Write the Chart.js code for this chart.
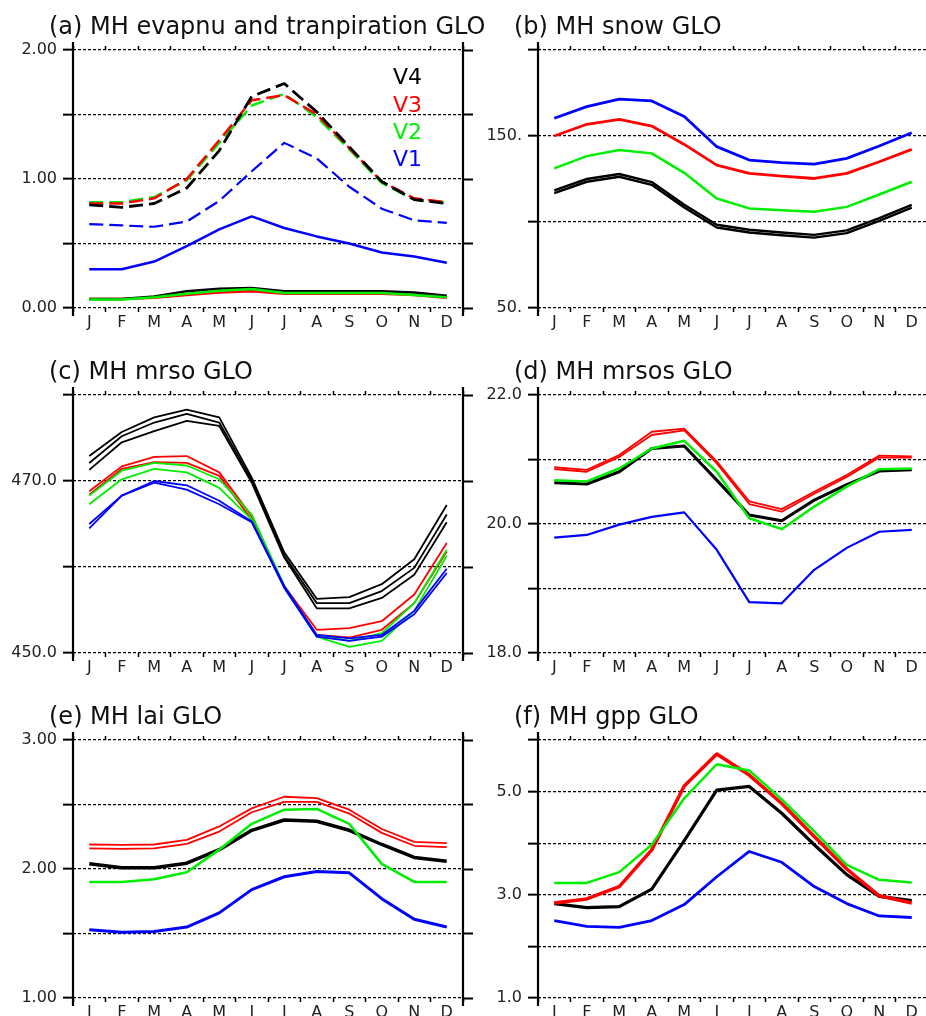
<!DOCTYPE html>
<html><head><meta charset="utf-8">
<script src="https://cdn.jsdelivr.net/npm/chart.js@4.4.1/dist/chart.umd.min.js"></script>
<style>
html,body{margin:0;padding:0;width:926px;height:1016px;overflow:hidden;background:#fff;position:relative;}
canvas{position:absolute;}
.title{position:absolute;font-family:'DejaVu Sans';font-size:24px;line-height:24px;color:#111;white-space:nowrap;}
.leg{position:absolute;font-family:'DejaVu Sans';font-size:22px;line-height:22px;text-align:right;width:60px;left:362px;}
</style></head><body>
<canvas id="ca" width="480" height="345" style="left:0px;top:0px"></canvas>
<canvas id="cb" width="480" height="345" style="left:465px;top:0px"></canvas>
<canvas id="cc" width="480" height="345" style="left:0px;top:345px"></canvas>
<canvas id="cd" width="480" height="345" style="left:465px;top:345px"></canvas>
<canvas id="ce" width="480" height="345" style="left:0px;top:690px"></canvas>
<canvas id="cf" width="480" height="345" style="left:465px;top:690px"></canvas>
<div class="title" style="left:49px;top:13.5px">(a) MH evapnu and tranpiration GLO</div>
<div class="title" style="left:514px;top:13.5px">(b) MH snow GLO</div>
<div class="title" style="left:49px;top:358.5px">(c) MH mrso GLO</div>
<div class="title" style="left:514px;top:358.5px">(d) MH mrsos GLO</div>
<div class="title" style="left:49px;top:703.5px">(e) MH lai GLO</div>
<div class="title" style="left:514px;top:703.5px">(f) MH gpp GLO</div>
<div class="leg" style="top:66px;color:#000">V4</div>
<div class="leg" style="top:94px;color:#ff0000">V3</div>
<div class="leg" style="top:121px;color:#00ee00">V2</div>
<div class="leg" style="top:147.5px;color:#0000ff">V1</div>
<script>
// ---------- data ----------
const months = ['J','F','M','A','M','J','J','A','S','O','N','D'];
const versions = ['V4','V3','V2','V1'];

// (a) evaporation (dashed) and transpiration (solid)
const evapV4 = [0.80,0.78,0.81,0.93,1.22,1.64,1.74,1.52,1.25,0.98,0.84,0.81];
const evapV3 = [0.81,0.81,0.85,1.00,1.30,1.61,1.65,1.50,1.24,0.98,0.85,0.82];
const evapV2 = [0.82,0.82,0.86,0.99,1.28,1.57,1.66,1.48,1.23,0.97,0.84,0.82];
const evapV1 = [0.65,0.64,0.63,0.67,0.83,1.06,1.28,1.16,0.94,0.77,0.68,0.66];
const tranV4 = [0.07,0.07,0.09,0.13,0.15,0.155,0.13,0.13,0.13,0.13,0.12,0.095];
const tranV3 = [0.07,0.07,0.08,0.10,0.12,0.13,0.11,0.11,0.11,0.11,0.10,0.08];
const tranV2 = [0.065,0.065,0.083,0.11,0.134,0.147,0.116,0.116,0.116,0.116,0.10,0.083];
const tranV1 = [0.30,0.30,0.36,0.48,0.61,0.71,0.62,0.555,0.50,0.43,0.40,0.35];
const aTickVals = [0, 1, 2];
const aTickText = ['0.00','1.00','2.00'];

// (b) snow
const snowV1 = [160.3,167.1,171.4,170.4,161.3,143.8,136.0,134.5,133.7,137.0,144.2,151.9];
const snowV3 = [150.0,156.8,159.7,155.8,145.1,133.1,128.3,126.7,125.3,128.3,135.0,142.2];
const snowV2 = [131.2,138.3,141.8,139.9,128.6,113.7,107.9,106.9,105.9,108.8,116.0,123.4];
const snowV4a = [118.4,125.0,127.9,123.2,110.0,98.4,95.5,93.9,92.5,95.1,102.3,110.0];
const snowV4b = [116.8,123.4,126.3,121.6,108.4,96.8,93.9,92.3,90.9,93.5,100.7,108.4];
const bTickVals = [50, 150];
const bTickText = ['50.','150.'];

// (c) mrso (ensemble members)
const mrsoV4a = [472.9,475.7,477.4,478.3,477.4,470.4,461.7,456.3,456.5,458.0,460.9,467.2];
const mrsoV4b = [472.1,475.2,476.8,477.8,476.8,470.1,461.3,455.8,455.8,457.2,459.9,466.1];
const mrsoV4c = [471.3,474.5,475.8,477.0,476.4,469.8,461.1,455.2,455.2,456.4,459.1,465.2];
const mrsoV3a = [468.8,471.7,472.8,472.9,471.0,465.9,457.8,452.7,452.9,453.7,456.8,462.8];
const mrsoV3b = [468.4,471.4,472.2,472.1,470.6,465.5,457.6,452.1,451.8,452.7,455.8,461.8];
const mrsoV2a = [468.3,471.2,472.1,471.8,470.2,466.1,457.8,452.1,451.4,452.3,455.8,462.0];
const mrsoV2b = [467.3,470.2,471.4,471.0,469.2,465.5,457.6,451.9,450.7,451.4,454.9,461.3];
const mrsoV1a = [465.0,468.3,470.0,469.5,467.7,465.3,457.8,452.1,451.7,452.1,454.9,459.8];
const mrsoV1b = [464.5,468.3,469.8,469.0,467.3,465.2,457.6,451.9,451.4,451.9,454.5,459.3];
const cTickVals = [450, 470];
const cTickText = ['450.0','470.0'];

// (d) mrsos
const mrsosV3a = [20.88,20.84,21.07,21.43,21.48,20.97,20.35,20.23,20.50,20.76,21.06,21.05];
const mrsosV3b = [20.85,20.81,21.04,21.38,21.45,20.94,20.31,20.19,20.47,20.73,21.03,21.03];
const mrsosV2 = [20.68,20.66,20.86,21.17,21.29,20.81,20.09,19.92,20.27,20.58,20.85,20.86];
const mrsosV4 = [20.64,20.62,20.81,21.17,21.21,20.68,20.14,20.05,20.37,20.61,20.82,20.84];
const mrsosV1 = [19.79,19.83,19.99,20.11,20.18,19.60,18.79,18.77,19.29,19.63,19.88,19.91];
const dTickVals = [18, 20, 22];
const dTickText = ['18.0','20.0','22.0'];

// (e) lai
const laiV3a = [2.19,2.187,2.19,2.226,2.33,2.47,2.56,2.55,2.46,2.31,2.21,2.20];
const laiV3b = [2.16,2.156,2.16,2.195,2.29,2.44,2.52,2.52,2.43,2.28,2.18,2.17];
const laiV4 = [2.04,2.01,2.01,2.045,2.15,2.30,2.38,2.37,2.30,2.19,2.09,2.06];
const laiV2 = [1.90,1.90,1.92,1.975,2.15,2.35,2.46,2.466,2.35,2.04,1.90,1.90];
const laiV1 = [1.53,1.51,1.516,1.55,1.66,1.84,1.94,1.98,1.97,1.77,1.61,1.55];
const eTickVals = [1, 2, 3];
const eTickText = ['1.00','2.00','3.00'];

// (f) gpp
const gppV3 = [2.84,2.92,3.16,3.87,5.11,5.73,5.32,4.77,4.13,3.50,2.98,2.84];
const gppV2 = [3.23,3.23,3.44,3.97,4.87,5.53,5.41,4.85,4.23,3.58,3.29,3.24];
const gppV4 = [2.83,2.75,2.77,3.11,4.05,5.03,5.10,4.58,3.97,3.39,2.97,2.89];
const gppV1 = [2.50,2.39,2.37,2.50,2.81,3.35,3.84,3.63,3.16,2.83,2.59,2.56];
const fTickVals = [1, 3, 5];
const fTickText = ['1.0','3.0','5.0'];

// ---------- styling / building ----------
const COL = {V4:'#000000', V3:'#ff0000', V2:'#00ee00', V1:'#0000ff'};
const FONT = 'DejaVu Sans';

const framePlugin = {
  id:'frame',
  afterDraw(chart){
    const {ctx, chartArea:{left,right,top,bottom}} = chart;
    ctx.save();
    ctx.strokeStyle = '#000';
    ctx.lineWidth = 2.2;
    ctx.beginPath();
    ctx.moveTo(left, top-8); ctx.lineTo(left, bottom+8);
    ctx.moveTo(right, top-8); ctx.lineTo(right, bottom+8);
    ctx.stroke();
    ctx.restore();
  }
};

function ds(label, data, color, width, dash){
  return {label, data, borderColor:color, borderWidth:width, borderDash:dash||[],
          pointRadius:0, fill:false, tension:0, borderJoinStyle:'round', borderCapStyle:'butt'};
}

function makeChart(id, datasets, min, max, step, tickVals, tickText){
  const yTicks = {
    stepSize: step,
    color:'#222',
    font:{family:FONT, size:16},
    padding:6,
    callback:(v)=>{ const i = tickVals.findIndex(t=>Math.abs(t-v)<1e-9); return i>=0 ? tickText[i] : ''; }
  };
  new Chart(document.getElementById(id), {
    type:'line',
    data:{labels:months, datasets},
    plugins:[framePlugin],
    options:{
      responsive:false, animation:false, devicePixelRatio:1,
      layout:{padding:0},
      plugins:{legend:{display:false}, tooltip:{enabled:false}, title:{display:false}},
      scales:{
        x:{type:'category', position:'bottom', offset:true,
           grid:{offset:true, drawOnChartArea:false, drawTicks:true, tickLength:4, tickWidth:1.5, tickColor:'#000', color:'#000'},
           border:{display:false},
           ticks:{color:'#222', font:{family:FONT, size:16}, padding:1, autoSkip:false, maxRotation:0},
           afterFit:(s)=>{ s.height = 37; }},
        x2:{type:'category', position:'top', offset:true,
           grid:{offset:true, drawOnChartArea:false, drawTicks:true, tickLength:4, tickWidth:1.5, tickColor:'#000', color:'#000'},
           border:{display:false},
           ticks:{display:false},
           afterFit:(s)=>{ s.height = 50; }},
        y:{type:'linear', position:'left', min, max,
           ticks:yTicks,
           grid:{color:'#000', lineWidth:1.3, drawOnChartArea:true, drawTicks:true, tickLength:10, tickWidth:2, tickColor:'#000'},
           border:{display:false, dash:[3,2]},
           afterFit:(s)=>{ s.width = 73; }},
        y2:{type:'linear', position:'right', min, max,
           ticks:{stepSize:step, display:false},
           grid:{drawOnChartArea:false, drawTicks:true, tickLength:10, tickWidth:2, tickColor:'#000', color:'#000'},
           border:{display:false},
           afterFit:(s)=>{ s.width = 17; }}
      }
    }
  });
}

// (a)
makeChart('ca', [
  ds('V2 tran', tranV2, COL.V2, 2.5),
  ds('V4 tran', tranV4, COL.V4, 2.5),
  ds('V3 tran', tranV3, COL.V3, 2.5),
  ds('V4 evap', evapV4, COL.V4, 2.8, [14,6]),
  ds('V3 evap', evapV3, COL.V3, 2.5, [14,6]),
  ds('V2 evap', evapV2, COL.V2, 2.5, [14,6]),
  ds('V1 evap', evapV1, COL.V1, 2.2, [14,6]),
  ds('V1 tran', tranV1, COL.V1, 2.5)
], 0, 2, 0.5, aTickVals, aTickText);

// (b)
makeChart('cb', [
  ds('V1', snowV1, COL.V1, 2.8),
  ds('V3', snowV3, COL.V3, 2.8),
  ds('V2', snowV2, COL.V2, 2.5),
  ds('V4a', snowV4a, COL.V4, 2.4),
  ds('V4b', snowV4b, COL.V4, 2.4)
], 50, 200, 50, bTickVals, bTickText);

// (c)
makeChart('cc', [
  ds('V1a', mrsoV1a, COL.V1, 1.8),
  ds('V1b', mrsoV1b, COL.V1, 1.8),
  ds('V2a', mrsoV2a, COL.V2, 1.8),
  ds('V2b', mrsoV2b, COL.V2, 1.8),
  ds('V3a', mrsoV3a, COL.V3, 1.8),
  ds('V3b', mrsoV3b, COL.V3, 1.8),
  ds('V4a', mrsoV4a, COL.V4, 1.8),
  ds('V4b', mrsoV4b, COL.V4, 1.8),
  ds('V4c', mrsoV4c, COL.V4, 1.8)
], 450, 480, 10, cTickVals, cTickText);

// (d)
makeChart('cd', [
  ds('V1', mrsosV1, COL.V1, 2.2),
  ds('V2', mrsosV2, COL.V2, 2.5),
  ds('V4', mrsosV4, COL.V4, 3),
  ds('V3a', mrsosV3a, COL.V3, 1.8),
  ds('V3b', mrsosV3b, COL.V3, 1.8)
], 18, 22, 1, dTickVals, dTickText);

// (e)
makeChart('ce', [
  ds('V1', laiV1, COL.V1, 3),
  ds('V2', laiV2, COL.V2, 2.5),
  ds('V4', laiV4, COL.V4, 3.5),
  ds('V3a', laiV3a, COL.V3, 1.8),
  ds('V3b', laiV3b, COL.V3, 1.8)
], 1, 3, 0.5, eTickVals, eTickText);

// (f)
makeChart('cf', [
  ds('V1', gppV1, COL.V1, 2.8),
  ds('V2', gppV2, COL.V2, 2.5),
  ds('V3', gppV3, COL.V3, 3.5),
  ds('V4', gppV4, COL.V4, 3.2)
], 1, 6, 1, fTickVals, fTickText);
</script>
</body></html>
